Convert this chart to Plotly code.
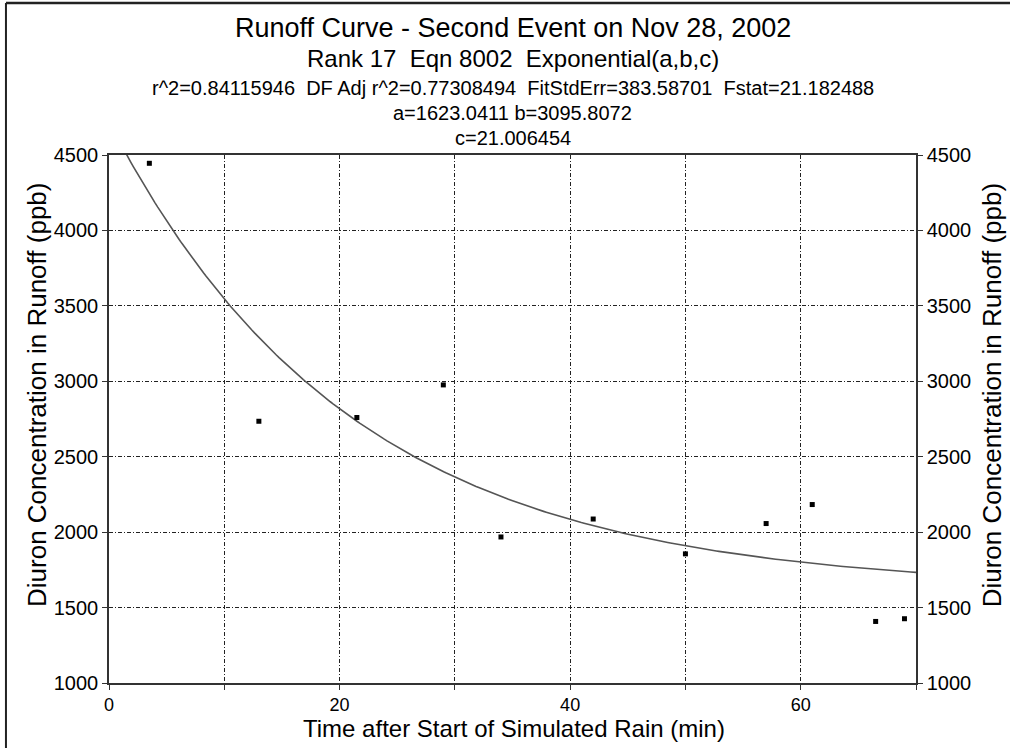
import numpy as np
import plotly.graph_objects as go

# Observed data
time_min = [3.5, 13, 21.5, 29, 34, 42, 50, 57, 61, 66.5, 69]
diuron_ppb = [4445, 2735, 2760, 2976, 1968, 2087, 1856, 2057, 2183, 1408, 1426]

# Fitted model parameters: y = a + b*exp(-x/c)
a, b, c = 1623.0411, 3095.8072, 21.006454
x_range = [0, 70]
y_range = [1000, 4500]

title_lines = [
    "Runoff Curve - Second Event on Nov 28, 2002",
    "Rank 17  Eqn 8002  Exponential(a,b,c)",
    "r^2=0.84115946  DF Adj r^2=0.77308494  FitStdErr=383.58701  Fstat=21.182488",
    "a=1623.0411 b=3095.8072",
    "c=21.006454",
]
x_tickvals = [0, 10, 20, 30, 40, 50, 60, 70]
x_ticktext = ["0", "", "20", "", "40", "", "60", ""]
y_tickvals = [1000, 1500, 2000, 2500, 3000, 3500, 4000, 4500]

fit_x = np.linspace(0, 70, 300)
fit_y = a + b * np.exp(-fit_x / c)

FONT = "Liberation Sans, Arial, sans-serif"

fig = go.Figure()
fig.add_trace(go.Scatter(x=fit_x, y=fit_y, mode="lines",
                         line=dict(color="#555555", width=1.6),
                         showlegend=False, hoverinfo="skip"))
fig.add_trace(go.Scatter(x=time_min, y=diuron_ppb, mode="markers",
                         marker=dict(symbol="square", size=5, color="black"),
                         showlegend=False))
# invisible trace for right axis
fig.add_trace(go.Scatter(x=[time_min[0]], y=[diuron_ppb[0]], yaxis="y2",
                         mode="markers", marker=dict(opacity=0),
                         showlegend=False, hoverinfo="skip"))

axis_common = dict(showline=True, linecolor="#333333", linewidth=1.5,
                   ticks="outside", ticklen=5, tickcolor="#333333",
                   zeroline=False)
yfont = dict(family=FONT, size=20, color="black")
xfont = dict(family=FONT, size=18, color="black")

fig.update_layout(
    width=1010, height=748,
    margin=dict(l=109, r=94, t=155, b=65),
    paper_bgcolor="white", plot_bgcolor="white",
    font=dict(family=FONT, color="black"),
    xaxis=dict(range=x_range, tickvals=x_tickvals, ticktext=x_ticktext, tickfont=xfont,
               showgrid=True, gridcolor="#222222", gridwidth=1, griddash="4px,2px,1px,2px",
               mirror=True, **axis_common),
    yaxis=dict(range=y_range, tickvals=y_tickvals, tickfont=yfont,
               showgrid=True, gridcolor="#222222", gridwidth=1, griddash="4px,2px,1px,2px",
               **axis_common),
    yaxis2=dict(range=y_range, tickvals=y_tickvals, tickfont=yfont, overlaying="y", side="right",
                showgrid=False, **axis_common),
)

title_y_px = [28, 58, 88, 113, 138]
title_sizes = [27, 24, 20, 20, 20]
for txt, ypx, sz in zip(title_lines, title_y_px, title_sizes):
    fig.add_annotation(text=txt, xref="paper", yref="paper", x=0.5,
                       y=(683 - ypx) / 528, xanchor="center", yanchor="middle",
                       showarrow=False, font=dict(family=FONT, size=sz, color="black"))

fig.add_annotation(text="Time after Start of Simulated Rain (min)", xref="paper", yref="paper",
                   x=(514 - 109) / 806.7, y=(683 - 728) / 528, xanchor="center", yanchor="middle",
                   showarrow=False, font=dict(family=FONT, size=24, color="black"))
for xpx in [37, 992]:
    fig.add_annotation(text="Diuron Concentration in Runoff (ppb)", xref="paper", yref="paper",
                       x=(xpx - 109) / 806.7, y=(683 - 395) / 528, xanchor="center", yanchor="middle",
                       textangle=-90, showarrow=False,
                       font=dict(family=FONT, size=26, color="black"))

# outer frame lines (left and top)
fig.add_shape(type="line", xref="paper", yref="paper",
              x0=(6 - 109) / 806.7, x1=(6 - 109) / 806.7, y0=(683 - 748) / 528, y1=(683 - 3) / 528,
              line=dict(color="#222222", width=2))
fig.add_shape(type="line", xref="paper", yref="paper",
              x0=(6 - 109) / 806.7, x1=(1010 - 109) / 806.7, y0=(683 - 3) / 528, y1=(683 - 3) / 528,
              line=dict(color="#222222", width=2.5))

fig.write_html("out.html")
